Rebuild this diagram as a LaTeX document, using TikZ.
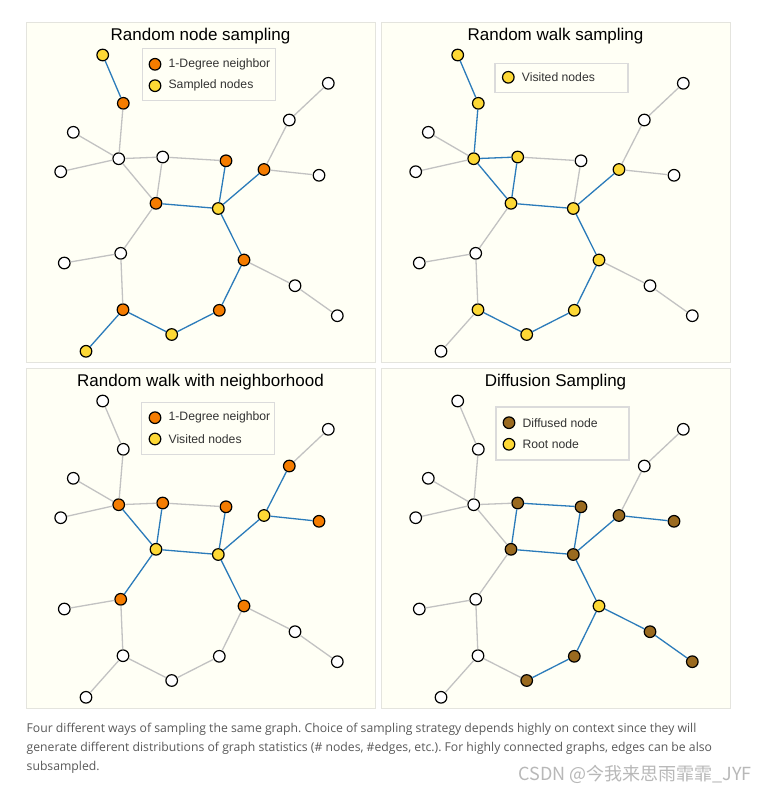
\documentclass[tikz,border=0pt]{standalone}
\usepackage{fontspec}
\setmainfont{Liberation Sans}
\newfontfamily\capfont{Open Sans}
\newfontfamily\cjkfont{Noto Sans CJK SC}
\usepackage{tikz}
\usetikzlibrary{positioning}
\definecolor{panelbg}{HTML}{FFFFF5}
\definecolor{panelline}{HTML}{E4E4DE}
\definecolor{nbrorange}{HTML}{F57C00}
\definecolor{sampyellow}{HTML}{FDD835}
\definecolor{diffbrown}{HTML}{9A6A1F}
\definecolor{walkblue}{HTML}{2B7BBA}
\definecolor{edgegray}{HTML}{C2C2C2}
\definecolor{captiongray}{HTML}{595959}
\frenchspacing

\begin{document}
\begin{tikzpicture}[x=1pt, y=-1pt,
  every node/.style={font=\fontsize{12.2}{14}\selectfont},
  vertex/.style={circle, draw=black, line width=1.2pt, fill=white,
                 minimum size=11.6pt, inner sep=0pt},
  plain/.style={vertex},
  nbr/.style={vertex, fill=nbrorange},
  samp/.style={vertex, fill=sampyellow},
  diff/.style={vertex, fill=diffbrown},
  walk/.style={walkblue, line width=1.3pt},
  idle/.style={edgegray, line width=1.3pt},
  panel/.style={draw=panelline, line width=1pt, fill=panelbg,
                minimum width=349pt, minimum height=339.5pt, inner sep=0pt},
  legend/.style={draw=black!14, line width=1.5pt, fill=panelbg,
                 minimum width=133pt, inner sep=0pt},
  keytext/.style={inner sep=0pt, text=black!80},
  title/.style={font=\fontsize{17}{20}\selectfont},
  caption/.style={font=\capfont\fontsize{12.2}{14}\selectfont,
                  text=captiongray, anchor=base west, inner sep=0pt},
]

\useasboundingbox[fill=white] (0,0) rectangle (768,793);

%% ── Panels and titles ─────────────────────────────────────────────────────
\foreach \p/\x/\y in {1/26/22, 2/381/22, 3/26/368, 4/381/368} {
  \node[panel, anchor=north west] (box\p) at (\x,\y) {};
}
\node[title] (title1) at (200.5, 36) {Random node sampling};
\node[title] (title2) at (555.5, 36) {Random walk sampling};
\node[title] (title3) at (200.5,382) {Random walk with neighborhood};
\node[title] (title4) at (555.5,382) {Diffusion Sampling};

%% ── Graph nodes (a: node, b: walk, c: walk+nbh, d: diffusion) ─────────────
\foreach \n/\x/\y/\sa/\sb/\sc/\sd in {
  A/102.7/55.0/samp/samp/plain/plain,
  B/123.3/103.3/nbr/samp/plain/plain,
  C/73.3/132.3/plain/plain/plain/plain,
  D/118.7/158.7/plain/samp/nbr/plain,
  E/60.7/171.7/plain/plain/plain/plain,
  F/162.7/157.0/plain/samp/nbr/diff,
  G/226.0/160.8/nbr/plain/nbr/diff,
  H/156.0/203.3/nbr/samp/samp/diff,
  I/218.3/208.5/samp/samp/samp/diff,
  J/264.0/169.5/nbr/samp/samp/diff,
  K/289.3/120.0/plain/plain/nbr/plain,
  L/328.3/83.3/plain/plain/plain/plain,
  M/319.0/175.3/plain/plain/nbr/diff,
  N/120.7/253.3/plain/plain/nbr/plain,
  O/64.3/263.0/plain/plain/plain/plain,
  P/244.0/260.0/nbr/samp/nbr/samp,
  Q/295.0/285.7/plain/plain/plain/diff,
  R/337.3/315.7/plain/plain/plain/diff,
  S/123.0/309.7/nbr/samp/plain/plain,
  T/171.7/334.5/samp/samp/plain/diff,
  U/219.3/310.3/nbr/samp/plain/diff,
  V/86.0/351.3/samp/plain/plain/plain} {
  \node[\sa] (a\n) at (\x,\y) {};
  \node[\sb] (b\n) at (\x+355,\y) {};
  \node[\sc] (c\n) at (\x,\y+346) {};
  \node[\sd] (d\n) at (\x+355,\y+346) {};
}

%% ── Graph edges ───────────────────────────────────────────────────────────
\foreach \u/\v/\ea/\eb/\ec/\ed in {
  A/B/walk/walk/idle/idle,
  B/D/idle/walk/idle/idle,
  C/D/idle/idle/idle/idle,
  E/D/idle/idle/idle/idle,
  D/F/idle/walk/idle/idle,
  D/H/idle/walk/walk/idle,
  F/H/idle/walk/walk/walk,
  F/G/idle/idle/idle/walk,
  G/I/walk/idle/walk/walk,
  H/I/walk/walk/walk/walk,
  I/J/walk/walk/walk/walk,
  J/K/idle/idle/walk/idle,
  K/L/idle/idle/idle/idle,
  J/M/idle/idle/walk/walk,
  H/N/idle/idle/walk/idle,
  N/O/idle/idle/idle/idle,
  N/S/idle/idle/idle/idle,
  I/P/walk/walk/walk/walk,
  P/Q/idle/idle/idle/walk,
  Q/R/idle/idle/idle/walk,
  P/U/walk/walk/idle/walk,
  S/T/walk/walk/idle/idle,
  T/U/walk/walk/idle/walk,
  S/V/walk/idle/idle/idle} {
  \draw[\ea] (a\u) -- (a\v);
  \draw[\eb] (b\u) -- (b\v);
  \draw[\ec] (c\u) -- (c\v);
  \draw[\ed] (d\u) -- (d\v);
}

%% ── Legends ───────────────────────────────────────────────────────────────
\node[legend, minimum height=52pt] (key1) at (209.0, 74.5) {};
\node[nbr]  (key1a) at (155.0, 64.3) {};
\node[samp] (key1b) at (155.0, 85.7) {};
\node[keytext, right=7pt of key1a] (key1at) {1-Degree neighbor};
\node[keytext, right=7pt of key1b] (key1bt) {Sampled nodes};

\node[legend, minimum height=29pt] (key2) at (561.3, 78.0) {};
\node[samp] (key2a) at (508.3, 77.3) {};
\node[keytext, right=7pt of key2a] (key2at) {Visited nodes};

\node[legend, minimum height=52pt] (key3) at (208.0,428.7) {};
\node[nbr]  (key3a) at (155.0,417.7) {};
\node[samp] (key3b) at (155.0,439.0) {};
\node[keytext, right=7pt of key3a] (key3at) {1-Degree neighbor};
\node[keytext, right=7pt of key3b] (key3bt) {Visited nodes};

\node[legend, minimum height=53pt] (key4) at (562.7,433.3) {};
\node[diff] (key4a) at (509.0,422.7) {};
\node[samp] (key4b) at (509.0,444.3) {};
\node[keytext, right=7pt of key4a] (key4at) {Diffused node};
\node[keytext, right=7pt of key4b] (key4bt) {Root node};

%% ── Caption ───────────────────────────────────────────────────────────────
\node[caption] (cap1) at (26.5,732) {Four different ways of sampling the same graph. Choice of sampling strategy depends highly on context since they will};
\node[caption] (cap2) at (26.5,751.5) {generate different distributions of graph statistics (\# nodes, \#edges, etc.). For highly connected graphs, edges can be also};
\node[caption] (cap3) at (26.5,770.5) {subsampled.};
\node[font=\cjkfont\fontsize{18}{20}\selectfont, text=black!28, anchor=east,
      inner sep=0pt] (mark) at (752,774) {CSDN @今我来思雨霏霏\_JYF};

\end{tikzpicture}
\end{document}
